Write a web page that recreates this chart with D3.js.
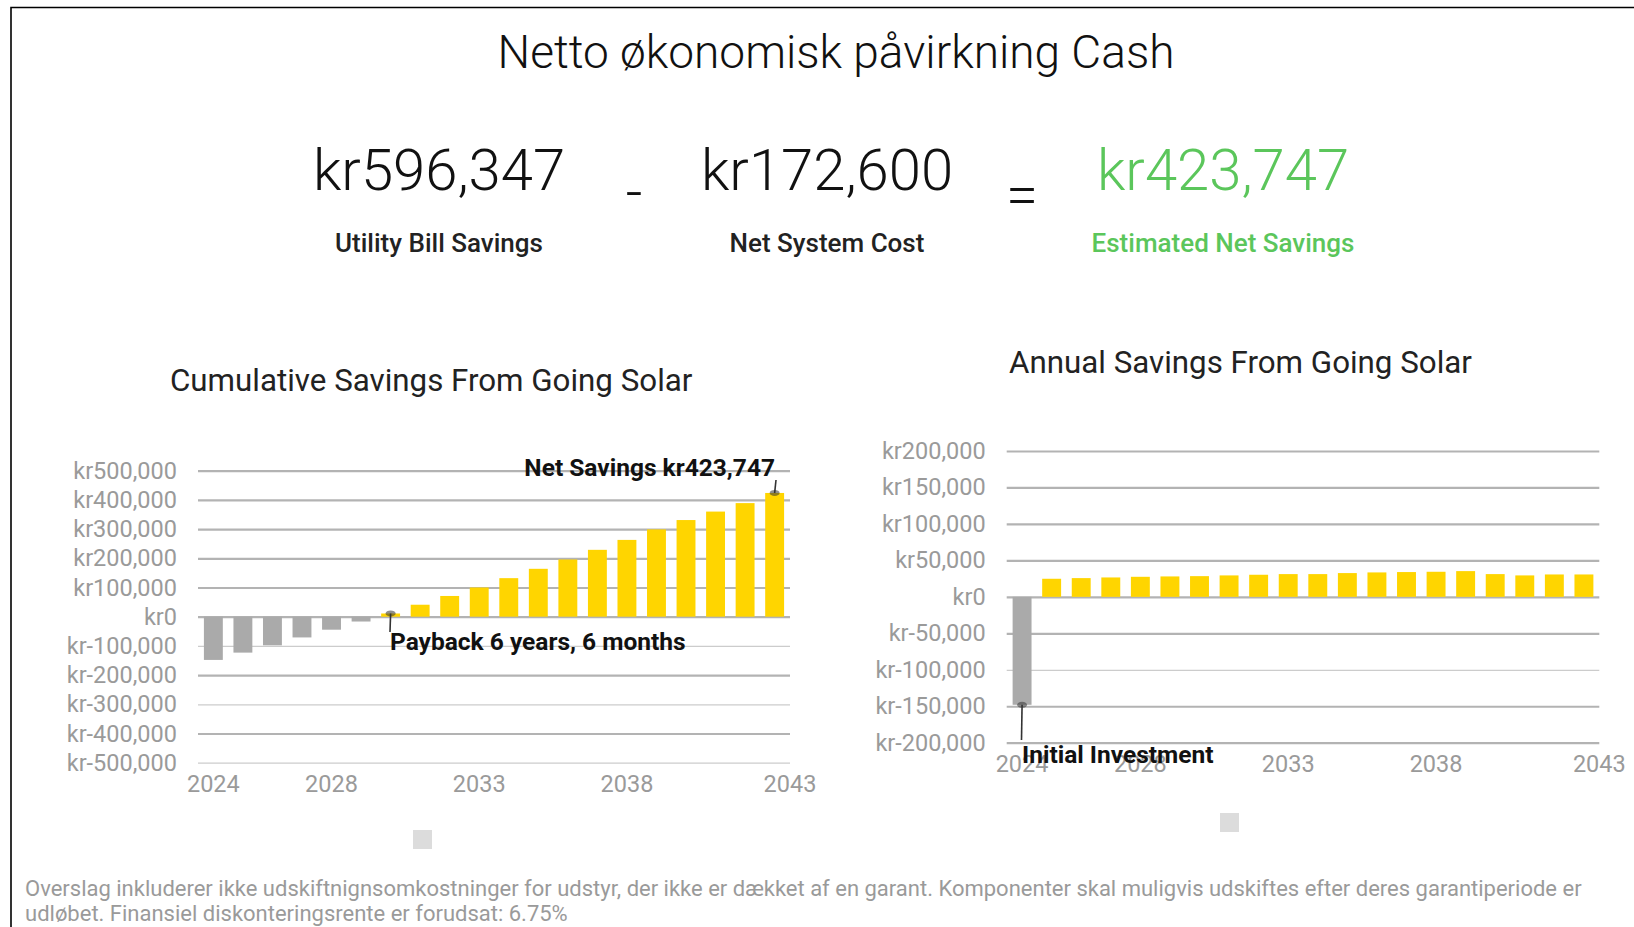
<!DOCTYPE html>
<html>
<head>
<meta charset="utf-8">
<script src="https://cdn.jsdelivr.net/npm/d3@7"></script>
<style>
  body { margin: 0; background: #fff; }
  svg { display: block; font-family: Roboto, "Noto Sans", sans-serif; }
</style>
</head>
<body>
<svg width="1634" height="927"></svg>
<script>
// data
var years = [2024, 2025, 2026, 2027, 2028, 2029, 2030, 2031, 2032, 2033,
             2034, 2035, 2036, 2037, 2038, 2039, 2040, 2041, 2042, 2043];
var cumulative = [-148000, -123000, -98000, -71000, -44500, -16500, 11000, 41000, 71000, 100000,
                  132000, 164000, 196000, 229000, 263000, 299000, 331000, 360000, 389000, 423747];
var annual = [-148000, 24800, 25700, 26600, 27500, 28000, 28400, 29400, 30300, 31200,
              31200, 32600, 33500, 34000, 34400, 35300, 31200, 29400, 30700, 30700];
var yearTicks = [2024, 2028, 2033, 2038, 2043];
var cumTicks = [-500000, -400000, -300000, -200000, -100000, 0, 100000, 200000, 300000, 400000, 500000];
var annTicks = [-200000, -150000, -100000, -50000, 0, 50000, 100000, 150000, 200000];
var totals = ["kr596,347", "kr172,600", "kr423,747"];
var totalLabels = ["Utility Bill Savings", "Net System Cost", "Estimated Net Savings"];
var footer = ["Overslag inkluderer ikke udskiftnignsomkostninger for udstyr, der ikke er dækket af en garant. Komponenter skal muligvis udskiftes efter deres garantiperiode er",
              "udløbet. Finansiel diskonteringsrente er forudsat: 6.75%"];

var yellow = "#ffd500", grey = "#aaaaaa", green = "#5bc65b";
// plain hyphen for negatives, like the original
var fmt = d3.formatLocale({decimal: ".", thousands: ",", grouping: [3], currency: ["", ""], minus: "-"}).format(",");
var kr = function(v) { return "kr" + fmt(v); };

svg = d3.select("svg");

// frame
svg.append("path")
  .attr("d", "M11,927V7.5H1634")
  .attr("fill", "none")
  .attr("stroke", "#000")
  .attr("stroke-width", 1.6);

svg.append("text")
  .attr("x", 836).attr("y", 68)
  .attr("text-anchor", "middle")
  .attr("font-size", 46).attr("font-weight", 300)
  .attr("fill", "#111")
  .text("Netto økonomisk påvirkning Cash");

// the three big numbers
var numX = [439, 827, 1223];
numX.forEach(function(cx, i) {
  var col = i == 2 ? green : "#111";
  svg.append("text")
    .attr("x", cx).attr("y", 190)
    .attr("text-anchor", "middle")
    .attr("font-size", 58).attr("font-weight", 300)
    .attr("fill", col)
    .text(totals[i]);
  svg.append("text")
    .attr("x", cx).attr("y", 252)
    .attr("text-anchor", "middle")
    .attr("font-size", 26).attr("font-weight", 500)
    .attr("fill", i == 2 ? green : "#222")
    .text(totalLabels[i]);
});
svg.append("text").attr("x", 634).attr("y", 212).attr("text-anchor", "middle")
  .attr("font-size", 58).attr("font-weight", 300).attr("fill", "#111").text("-");
svg.append("text").attr("x", 1022).attr("y", 215).attr("text-anchor", "middle")
  .attr("font-size", 58).attr("font-weight", 300).attr("fill", "#111").text("=");

// one bar chart, used for both panels
function barChart(opt) {
  var x = d3.scaleBand()
    .domain(years)
    .range([opt.x0, opt.x1])
    .paddingInner(0.36)
    .paddingOuter(0.2);
  var y = d3.scaleLinear()
    .domain([opt.ticks[0], opt.ticks[opt.ticks.length - 1]])
    .range([opt.y1, opt.y0]);

  var g = svg.append("g");

  svg.append("text")
    .attr("x", opt.titleX).attr("y", opt.titleY)
    .attr("font-size", 31.3).attr("fill", "#222")
    .text(opt.title);

  // grid lines + value labels
  var ya = g.append("g")
    .attr("transform", "translate(" + opt.x0 + ",0)")
    .call(d3.axisLeft(y).tickValues(opt.ticks).tickFormat(kr)
      .tickSize(-(opt.x1 - opt.x0)).tickPadding(21));
  ya.select(".domain").remove();
  ya.selectAll("line")
    .attr("stroke", function(d) { return opt.thin.indexOf(d) >= 0 ? "#cccccc" : "#b3b3b3"; })
    .attr("stroke-width", function(d) { return opt.thin.indexOf(d) >= 0 ? 1.2 : 2.2; });
  ya.selectAll("text")
    .attr("font-size", 23.5).attr("fill", "#9a9a9a").attr("font-family", "Roboto");

  // years along the bottom
  var xa = g.append("g")
    .attr("transform", "translate(0," + opt.y1 + ")")
    .call(d3.axisBottom(x).tickValues(yearTicks).tickSize(0).tickPadding(12.5));
  xa.select(".domain").remove();
  xa.selectAll("text")
    .attr("font-size", 23.5).attr("fill", "#9a9a9a").attr("font-family", "Roboto");
  // last year label sits on the end of the plot
  xa.selectAll("text").filter(function(d) { return d == 2043; })
    .attr("x", opt.x1 - (x(2043) + x.bandwidth() / 2));

  g.selectAll("rect.bar")
    .data(opt.values)
    .enter()
    .append("rect")
    .attr("class", "bar")
    .attr("x", function(d, i) { return x(years[i]); })
    .attr("width", x.bandwidth())
    .attr("y", function(d) { return y(Math.max(0, d)); })
    .attr("height", function(d) { return Math.abs(y(d) - y(0)); })
    .attr("fill", function(d) { return d < 0 ? grey : yellow; });

  return { x: x, y: y, g: g };
}

// little marker + caption
function note(c, year, value, x2, y2, tx, ty, anchor, label) {
  var cx = c.x(year) + c.x.bandwidth() / 2, cy = c.y(value);
  c.g.append("line")
    .attr("x1", cx).attr("y1", cy).attr("x2", x2).attr("y2", y2)
    .attr("stroke", "#333").attr("stroke-width", 1.6);
  c.g.append("ellipse")
    .attr("cx", cx).attr("cy", cy).attr("rx", 5).attr("ry", 3)
    .attr("fill", "#333").attr("opacity", 0.55);
  c.g.append("text")
    .attr("x", tx).attr("y", ty)
    .attr("text-anchor", anchor)
    .attr("font-size", 24.5).attr("font-weight", 700).attr("fill", "#111")
    .text(label);
}

var left = barChart({
  x0: 198, x1: 790, y0: 470.7, y1: 762.7,
  ticks: cumTicks, thin: [-100000, -300000, -500000],
  values: cumulative,
  title: "Cumulative Savings From Going Solar", titleX: 170, titleY: 391
});
note(left, 2030, cumulative[6], 390, 632, 390, 650, "start", "Payback 6 years, 6 months");
note(left, 2043, cumulative[19], 776, 480, 775, 476, "end", "Net Savings " + kr(cumulative[19]));

var right = barChart({
  x0: 1006.7, x1: 1599.3, y0: 451, y1: 742.7,
  ticks: annTicks, thin: [-100000],
  values: annual,
  title: "Annual Savings From Going Solar", titleX: 1009, titleY: 373
});
note(right, 2024, annual[0], 1021.5, 740, 1022, 763, "start", "Initial Investment");

// empty legend swatches
svg.append("rect").attr("x", 413).attr("y", 830).attr("width", 19).attr("height", 19).attr("fill", "#dcdcdc");
svg.append("rect").attr("x", 1220).attr("y", 813).attr("width", 19).attr("height", 19).attr("fill", "#dcdcdc");

svg.selectAll("text.foot")
  .data(footer)
  .enter()
  .append("text")
  .attr("class", "foot")
  .attr("x", 25)
  .attr("y", function(d, i) { return 896 + i * 25; })
  .attr("font-size", 22).attr("fill", "#9a9a9a")
  .text(function(d) { return d; });
</script>
</body>
</html>
